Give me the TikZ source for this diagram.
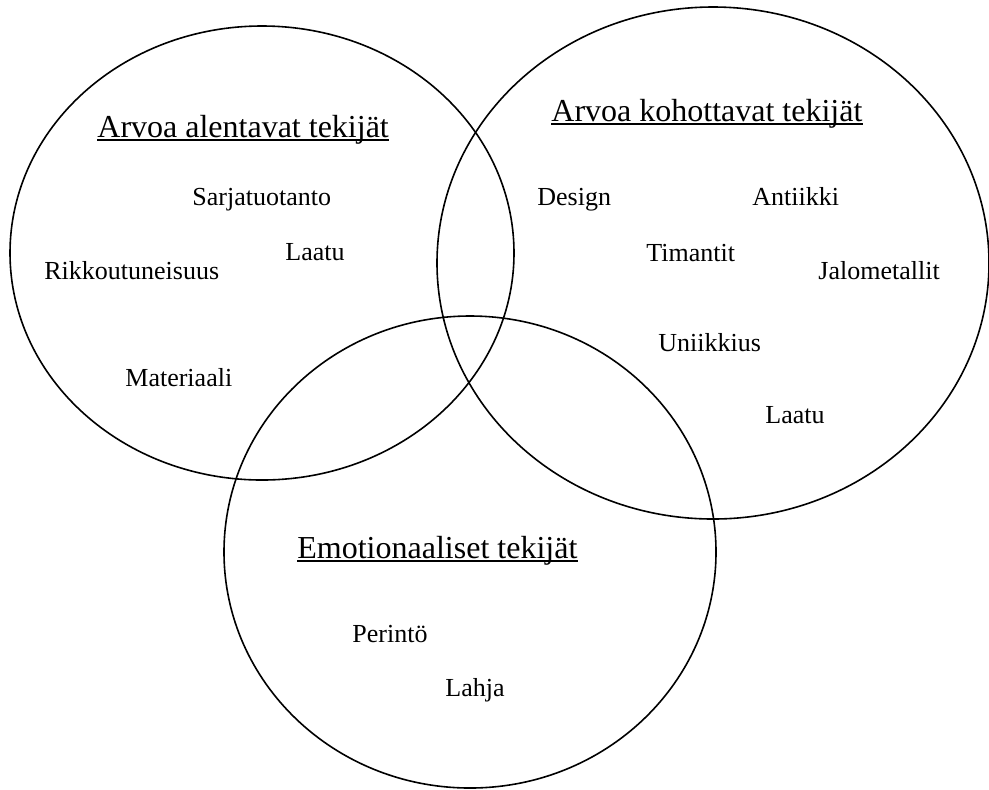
\documentclass[tikz,border=0pt]{standalone}
\usepackage{fontspec}
\setmainfont{Liberation Serif}

\tikzset{
  venn/.style={draw,line width=0.8pt},
  otsikko/.style={anchor=base west,inner sep=0pt,font=\fontsize{16}{19}\selectfont},
  tekija/.style={anchor=base west,inner sep=0pt,font=\fontsize{13}{16}\selectfont},
  alleviivaus/.style={line width=0.7pt},
}

\begin{document}
\begin{tikzpicture}[x=0.5pt,y=-0.5pt]
\useasboundingbox (0,0) rectangle (989,789);
% ympyrat
\draw[venn] (262,253) ellipse (126pt and 113.5pt);
\draw[venn] (713,263) ellipse (138pt and 128pt);
\draw[venn] (470,552) ellipse (123pt and 118pt);
% alentavat
\node[otsikko] (alentavat) at (97,137) {Arvoa alentavat tekijät};
\draw[alleviivaus] ([yshift=-1.5pt]alentavat.base west) -- ([yshift=-1.5pt]alentavat.base east);
\node[tekija] (sarja) at (192,205) {Sarjatuotanto};
\node[tekija] (laatu1) at (285,260) {Laatu};
\node[tekija] (rikko) at (44,279) {Rikkoutuneisuus};
\node[tekija] (materiaali) at (125,386) {Materiaali};
% kohottavat
\node[otsikko] (kohottavat) at (551,121) {Arvoa kohottavat tekijät};
\draw[alleviivaus] ([yshift=-1.5pt]kohottavat.base west) -- ([yshift=-1.5pt]kohottavat.base east);
\node[tekija] (design) at (537,205) {Design};
\node[tekija] (antiikki) at (752,205) {Antiikki};
\node[tekija] (timantit) at (646,261) {Timantit};
\node[tekija] (jalo) at (818,279) {Jalometallit};
\node[tekija] (uniikki) at (658,351) {Uniikkius};
\node[tekija] (laatu2) at (765,423) {Laatu};
% emotionaaliset
\node[otsikko] (emo) at (297,558) {Emotionaaliset tekijät};
\draw[alleviivaus] ([yshift=-1.5pt]emo.base west) -- ([yshift=-1.5pt]emo.base east);
\node[tekija] (perinto) at (352,642) {Perintö};
\node[tekija] (lahja) at (445,696) {Lahja};
\end{tikzpicture}
\end{document}
